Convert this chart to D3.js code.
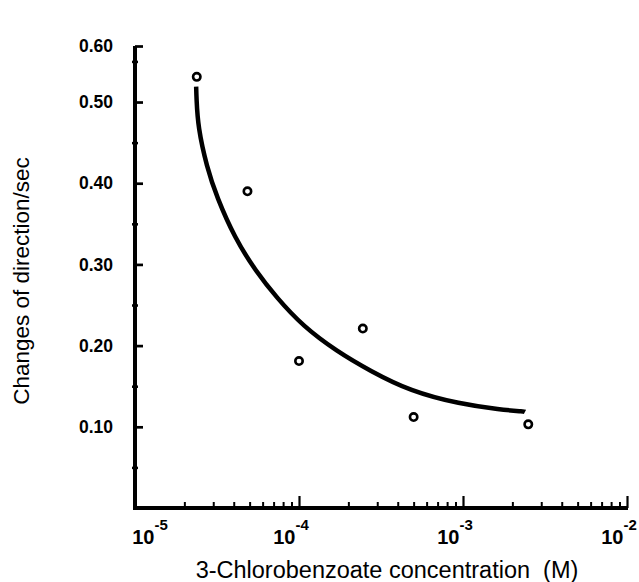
<!DOCTYPE html>
<html>
<head>
<meta charset="utf-8">
<script src="https://cdn.jsdelivr.net/npm/d3@7"></script>
<style>
  html, body { margin: 0; padding: 0; background: #fff; }
  svg { display: block; }
  text { font-family: "Liberation Sans", Arial, Helvetica, sans-serif; fill: #000; }
</style>
</head>
<body>
<svg id="chart" width="639" height="582"></svg>
<script>
// ---------- data ----------
const pointConc   = [2.38e-5, 4.85e-5, 1.0e-4, 2.45e-4, 5.0e-4, 2.5e-3];
const pointValue  = [0.531, 0.390, 0.181, 0.221, 0.112, 0.103];

const curveConc   = [2.36e-5, 2.37e-5, 2.42e-5, 2.74e-5, 3.15e-5, 4.07e-5, 5.4e-5, 7.31e-5,
                     1.057e-4, 1.7e-4, 2.71e-4, 4.75e-4, 9.6e-4, 1.68e-3, 2.38e-3, 2.39e-3];
const curveValue  = [0.519, 0.505, 0.469, 0.420, 0.383, 0.332, 0.293, 0.259,
                     0.224, 0.193, 0.169, 0.144, 0.128, 0.1212, 0.1187, 0.1185];

const xDecades    = [1e-5, 1e-4, 1e-3, 1e-2];
const xExponents  = ["-5", "-4", "-3", "-2"];
const yMajorTicks = [0.10, 0.20, 0.30, 0.40, 0.50];
const yMinorTicks = [0.05, 0.15, 0.25, 0.35, 0.45, 0.55];
const yTopLabel   = "0.60";
const yAxisMax    = 0.569;

const xTitle = "3-Chlorobenzoate concentration  (M)";
const yTitle = "Changes of direction/sec";

// ---------- layout ----------
const svg = d3.select("#chart");
const x = d3.scaleLog().domain([1e-5, 1e-2]).range([135, 627]);
const y = d3.scaleLinear().domain([0, yAxisMax]).range([508, 46]);
const x0 = x.range()[0], x1 = x.range()[1];
const y0 = y.range()[0], y1 = y.range()[1];

// minor x ticks
const xMinor = [];
xDecades.slice(0, -1).forEach(d => { for (let m = 2; m <= 9; m++) xMinor.push(d * m); });

// X axis: minor ticks
svg.append("g")
  .attr("transform", `translate(0,${y0})`)
  .call(d3.axisBottom(x).tickValues(xMinor).tickSizeInner(-6).tickSizeOuter(0).tickFormat(""))
  .call(g => g.select(".domain").remove())
  .call(g => g.selectAll(".tick line").attr("stroke", "#000").attr("stroke-width", 2));

// X axis: major ticks
svg.append("g")
  .attr("transform", `translate(0,${y0})`)
  .call(d3.axisBottom(x).tickValues(xDecades.slice(1)).tickSizeInner(-12).tickSizeOuter(0).tickFormat(""))
  .call(g => g.select(".domain").remove())
  .call(g => g.selectAll(".tick line").attr("stroke", "#000").attr("stroke-width", 2.2));

// X tick labels 10^n
const xl = svg.append("g");
xDecades.forEach((d, i) => {
  const cx = Math.max(x(d) - 8, x0 + 15);
  const t = xl.append("text")
    .attr("x", cx).attr("y", 544)
    .attr("text-anchor", "middle")
    .attr("font-weight", "bold")
    .attr("font-size", 20);
  t.append("tspan").text("10");
  t.append("tspan").attr("dy", -14).attr("font-size", 15).text(xExponents[i]);
});

// Y axis: minor ticks
svg.append("g")
  .attr("transform", `translate(${x0},0)`)
  .call(d3.axisLeft(y).tickValues(yMinorTicks).tickSizeInner(3).tickSizeOuter(0).tickFormat(""))
  .call(g => g.select(".domain").remove())
  .call(g => g.selectAll(".tick line").attr("x1", 3).attr("x2", -3).attr("stroke", "#000").attr("stroke-width", 2.5));

// Y axis: major ticks with labels
svg.append("g")
  .attr("transform", `translate(${x0},0)`)
  .call(d3.axisLeft(y).tickValues(yMajorTicks.concat([yAxisMax])).tickSizeInner(-8).tickSizeOuter(0).tickPadding(22)
        .tickFormat((d, i) => i < yMajorTicks.length ? d3.format(".2f")(d) : yTopLabel))
  .call(g => g.select(".domain").remove())
  .call(g => g.selectAll(".tick line").attr("stroke", "#000").attr("stroke-width", 2.7))
  .call(g => g.selectAll(".tick text")
      .attr("font-family", "'Liberation Sans', Arial, sans-serif")
      .attr("font-weight", "bold").attr("font-size", 17.5).attr("fill", "#000"));

// axis lines
svg.append("path")
  .attr("d", `M${x0},${y1}V${y0 + 2}`)
  .attr("stroke", "#000").attr("stroke-width", 4).attr("fill", "none");
svg.append("path")
  .attr("d", `M${x0 - 2},${y0}H${x1 + 1}`)
  .attr("stroke", "#000").attr("stroke-width", 4).attr("fill", "none");

// fitted curve
const curveData = curveConc.map((c, i) => [c, curveValue[i]]);
svg.append("path")
  .datum(curveData)
  .attr("fill", "none")
  .attr("stroke", "#000")
  .attr("stroke-width", 4.5)
  .attr("d", d3.line().x(d => x(d[0])).y(d => y(d[1])).curve(d3.curveBasis));

// points
svg.append("g").selectAll("circle")
  .data(pointConc.map((c, i) => [c, pointValue[i]]))
  .join("circle")
  .attr("cx", d => x(d[0]))
  .attr("cy", d => y(d[1]))
  .attr("r", 3.7)
  .attr("fill", "#fff")
  .attr("stroke", "#000")
  .attr("stroke-width", 2.6);

// titles
svg.append("text")
  .attr("x", 387).attr("y", 578)
  .attr("text-anchor", "middle")
  .attr("font-size", 23.5)
  .style("white-space", "pre")
  .text(xTitle);

svg.append("text")
  .attr("transform", `translate(29,${(y0 + y1) / 2 + 4}) rotate(-90)`)
  .attr("text-anchor", "middle")
  .attr("font-size", 22.5)
  .text(yTitle);
</script>
</body>
</html>
